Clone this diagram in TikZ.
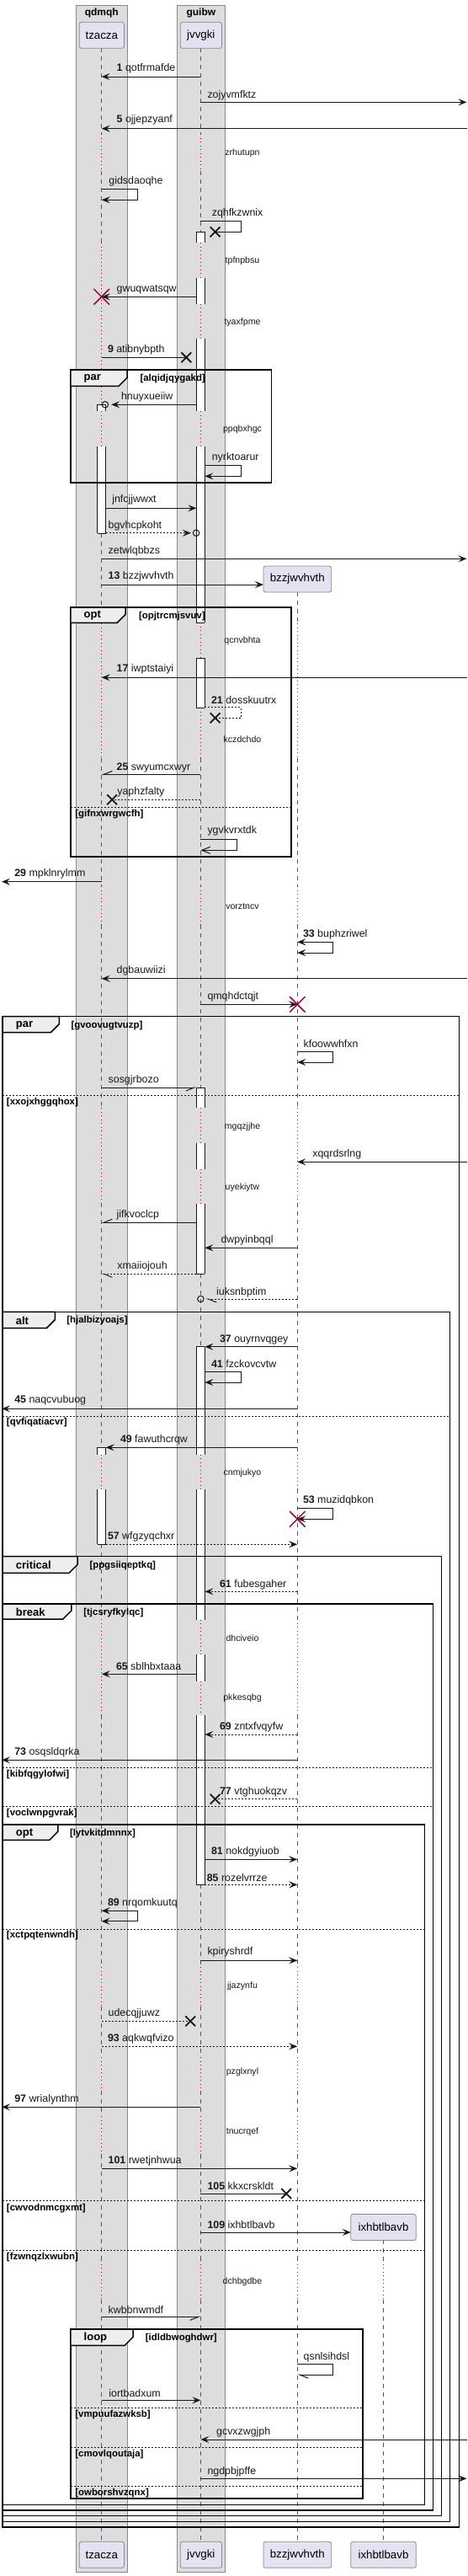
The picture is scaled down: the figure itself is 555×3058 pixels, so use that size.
\documentclass[tikz,border=0pt]{standalone}
\usepackage{fontspec}
\setmainfont{Liberation Sans}
\usetikzlibrary{arrows.meta,shapes.misc}
\definecolor{ink}{HTML}{181818}
\definecolor{boxbg}{HTML}{DDDDDD}
\definecolor{boxline}{HTML}{888888}
\definecolor{partfill}{HTML}{E2E2F0}
\definecolor{delayred}{HTML}{A80036}
\definecolor{tabfill}{HTML}{EEEEEE}
\definecolor{lifegray}{HTML}{555555}
\tikzset{
  msg/.style={draw=ink, line width=1pt},
  rmsg/.style={msg, dash pattern=on 2pt off 2pt},
  life/.style={draw=lifegray, line width=0.8pt, dash pattern=on 5pt off 5pt},
  dlyline/.style={draw=delayred, line width=1pt, dash pattern=on 1pt off 3.5pt},
  harpR/.style={-{Straight Barb[harpoon,swap,length=10pt,width=8pt]}},
  harpL/.style={-{Straight Barb[harpoon,length=10pt,width=8pt]}},
  openarr/.style={-{Straight Barb[length=10pt,width=8pt]}},
  lbl/.style={anchor=west, inner sep=0pt, text=ink, font=\fontsize{12.4}{14}\selectfont},
  dly/.style={inner sep=0pt, text=ink, font=\fontsize{10.6}{12}\selectfont},
  cond/.style={anchor=west, inner sep=0pt, font=\bfseries\fontsize{11.4}{13}\selectfont},
  tabtxt/.style={anchor=west, inner sep=0pt, font=\bfseries\fontsize{13}{15}\selectfont},
  boxtitle/.style={inner sep=0pt, font=\bfseries\fontsize{12}{14}\selectfont},
  part/.style={draw=boxline, fill=partfill, line width=0.8pt, rounded corners=2.5pt,
    minimum height=31pt, inner sep=0pt, font=\fontsize{13.3}{15}\selectfont},
  frame/.style={draw=black, line width=1.5pt},
  tab/.style={draw=black, line width=1.5pt, fill=tabfill},
  elsel/.style={draw=ink, line width=0.8pt, dash pattern=on 2pt off 2pt},
  lostx/.style={cross out, draw=ink, line width=1.8pt, minimum size=10pt, inner sep=0pt},
  killx/.style={cross out, draw=delayred, line width=1.5pt, minimum size=17pt, inner sep=0pt},
  circ/.style={circle, draw=ink, line width=1pt, minimum size=7.5pt, inner sep=0pt}
}
\newcommand{\actbar}[3]{%
  \fill[white] ({#1-5},#2) rectangle ({#1+5},#3);
  \draw[ink,line width=1pt] ({#1-5},#2) -- ({#1-5},#3) ({#1+5},#2) -- ({#1+5},#3);}
\newcommand{\actcap}[2]{\draw[ink,line width=1pt] ({#1-5},#2) -- ({#1+5},#2);}

\begin{document}
\begin{tikzpicture}[x=1pt,y=-1pt,>={Stealth[length=10pt,width=8pt,inset=4pt]}]
\useasboundingbox (0,0) rectangle (555,3058);

% boxes
\draw[boxline, fill=boxbg, line width=0.8pt] (89.9,6) rectangle (151.7,3053);
\draw[boxline, fill=boxbg, line width=0.8pt] (210.2,6) rectangle (267.7,3053);
\node[boxtitle] (qdmqh) at (120.8,15.5) {qdmqh};
\node[boxtitle] (guibw) at (238.9,15.5) {guibw};

% lifelines
\foreach \a/\b in {57.3/159, 203/288, 633.3/740, 900/1052, 1098/1315, 1428/1718.3, 1833.3/1922,
  2036/2335, 2382/2442, 2482/2512, 2558/2683, 2730/3017.3}
  \draw[life] (120.7,\a) -- (120.7,\b);
\foreach \a/\b in {159/203, 288/480.3, 488.3/530, 740/900, 1052/1098, 1315/1428, 1726.7/1768.3,
  1922/2036, 2335/2382, 2442/2482, 2512/2558, 2683/2730}
  \draw[dlyline] (120.7,\a) -- (120.7,\b);
\foreach \a/\b in {57.3/159, 203/275.3, 900/1052, 1098/1291, 1512.3/1598.7, 2237.3/2335,
  2382/2442, 2482/2512, 2558/2683, 2730/3017.3}
  \draw[life] (238.4,\a) -- (238.4,\b);
\foreach \a/\b in {159/203, 288.3/330, 360.7/401.7, 488.3/530, 739.3/781, 840.3/900, 1052/1098,
  1315/1356.7, 1387.7/1429, 1726.7/1768.3, 1922.7/1964.3, 1995.7/2036, 2335/2382, 2442/2482,
  2512/2558, 2683/2730}
  \draw[dlyline] (238.4,\a) -- (238.4,\b);
\foreach \a/\b in {703.3/740, 900/1052, 1098/1315, 1428/1726.7, 1768.3/1922, 2036/2335,
  2382/2442, 2482/2512, 2558/2683, 2730/3017.3}
  \draw[life] (353.3,\a) -- (353.3,\b);
\foreach \a/\b in {740/900, 1052/1098, 1315/1428, 1726.7/1768.3, 1922/2036, 2335/2382,
  2442/2482, 2512/2558, 2683/2730}
  \draw[dlyline] (353.3,\a) -- (353.3,\b);
\draw[life] (455,2659.3) -- (455,2683) (455,2730) -- (455,3017.3);
\draw[dlyline] (455,2683) -- (455,2730);

% activations
\actbar{120.7}{480.3}{488.3} \actcap{120.7}{480.3}
\actbar{120.7}{530}{633.3} \actcap{120.7}{633.3}
\actbar{120.7}{1718.3}{1726.7} \actcap{120.7}{1718.3}
\actbar{120.7}{1768.3}{1833.3} \actcap{120.7}{1833.3}
\actbar{238.4}{275.3}{288.3} \actcap{238.4}{275.3}
\actbar{238.4}{330}{360.7}
\actbar{238.4}{401.7}{488.3}
\actbar{238.4}{530}{739.3} \actcap{238.4}{739.3}
\actbar{238.4}{781}{840.3} \actcap{238.4}{781} \actcap{238.4}{840.3}
\actbar{238.4}{1291}{1315} \actcap{238.4}{1291}
\actbar{238.4}{1356.7}{1387.7}
\actbar{238.4}{1429}{1512.3} \actcap{238.4}{1512.3}
\actbar{238.4}{1598.7}{1726.7} \actcap{238.4}{1598.7}
\actbar{238.4}{1768.3}{1922.7}
\actbar{238.4}{1964.3}{1995.7}
\actbar{238.4}{2036}{2237.3} \actcap{238.4}{2237.3}

% frames
\draw[frame] (83.8,439) rectangle (322.3,573);
\draw[tab] (83.8,439) -- (151,439) -- (151,448.3) -- (141,458.3) -- (83.8,458.3) -- cycle;
\node[tabtxt] (par1) at (99.5,449.5) {par};
\node[cond] (g1) at (166.3,450) {[alqidjqygakd]};

\draw[frame] (83.8,721) rectangle (346.2,1017);
\draw[tab] (83.8,721) -- (149.2,721) -- (149.2,729.3) -- (139.2,739.3) -- (83.8,739.3) -- cycle;
\node[tabtxt] (opt1) at (99.5,730.5) {opt};
\node[cond] (g2) at (164.9,731.3) {[opjtrcmjsvuv]};
\draw[elsel] (83.8,958.3) -- (346.2,958.3);
\node[cond] (e1) at (89.2,966.7) {[gifnxwrgwcfh]};

\draw[frame] (3,1206.7) rectangle (545.3,3000);
\draw[tab] (3,1206.7) -- (70.3,1206.7) -- (70.3,1215.7) -- (60.3,1225.7) -- (3,1225.7) -- cycle;
\node[tabtxt] (par2) at (18.7,1217) {par};
\node[cond] (g3) at (84.3,1217.7) {[gvoovugtvuzp]};
\draw[elsel] (3,1300) -- (545.3,1300);
\node[cond] (e2) at (7.8,1309) {[xxojxhggqhox]};

\draw[frame] (3,1557.3) rectangle (534.6,2993.3);
\draw[tab] (3,1557.3) -- (65.3,1557.3) -- (65.3,1566.7) -- (55.3,1576.7) -- (3,1576.7) -- cycle;
\node[tabtxt] (alt) at (18.7,1567.5) {alt};
\node[cond] (g4) at (79.2,1567.7) {[hjalbizyoajs]};
\draw[elsel] (3,1681) -- (534.6,1681);
\node[cond] (e3) at (7.8,1688.3) {[qvfiqatiacvr]};

\draw[frame] (3,1847.7) rectangle (524.6,2986.7);
\draw[tab] (3,1847.7) -- (92.1,1847.7) -- (92.1,1857.3) -- (82.1,1867.3) -- (3,1867.3) -- cycle;
\node[tabtxt] (crit) at (18.7,1858) {critical};
\node[cond] (g5) at (106.3,1858.3) {[ppgsiiqeptkq]};

\draw[frame] (3,1904) rectangle (514.7,2980);
\draw[tab] (3,1904) -- (84.9,1904) -- (84.9,1912) -- (74.9,1922) -- (3,1922) -- cycle;
\node[tabtxt] (brk) at (18.7,1914) {break};
\node[cond] (g6) at (99.2,1914.3) {[tjcsryfkylqc]};
\draw[elsel] (3,2098.3) -- (514.7,2098.3);
\node[cond] (e4) at (7.8,2106.7) {[kibfqgylofwi]};
\draw[elsel] (3,2144.3) -- (514.7,2144.3);
\node[cond] (e5) at (7.8,2152.7) {[voclwnpgvrak]};

\draw[frame] (3,2166) rectangle (504.3,2973.3);
\draw[tab] (3,2166) -- (68.8,2166) -- (68.8,2174.3) -- (58.8,2184.3) -- (3,2184.3) -- cycle;
\node[tabtxt] (opt2) at (18.7,2176.5) {opt};
\node[cond] (g7) at (82.8,2176.7) {[lytvkitdmnnx]};
\draw[elsel] (3,2290) -- (504.3,2290);
\node[cond] (e6) at (7.8,2297.5) {[xctpqtenwndh]};
\draw[elsel] (3,2612.7) -- (504.3,2612.7);
\node[cond] (e7) at (7.8,2622) {[cwvodnmcgxmt]};
\draw[elsel] (3,2671.3) -- (504.3,2671.3);
\node[cond] (e8) at (7.8,2680) {[fzwnqzlxwubn]};

\draw[frame] (83.8,2765) rectangle (431.2,2966);
\draw[tab] (83.8,2765) -- (158.1,2765) -- (158.1,2774.3) -- (148.1,2784.3) -- (83.8,2784.3) -- cycle;
\node[tabtxt] (loop) at (99.5,2775) {loop};
\node[cond] (g8) at (172.7,2775.3) {[idldbwoghdwr]};
\draw[elsel] (83.8,2858.3) -- (431.2,2858.3);
\node[cond] (e9) at (89.2,2866.7) {[vmpuufazwksb]};
\draw[elsel] (83.8,2905.3) -- (431.2,2905.3);
\node[cond] (e10) at (89.2,2913.3) {[cmovlqoutaja]};
\draw[elsel] (83.8,2951.7) -- (431.2,2951.7);
\node[cond] (e11) at (89.2,2960) {[owborshvzqnx]};

% messages
\draw[msg,->] (238.4,91) -- (120.7,91);
\node[lbl] (l1) at (138.5,81.7) {\textbf{1} qotfrmafde};
\draw[msg,->] (238.4,121.3) -- (554.5,121.3);
\node[lbl] (l2) at (246.3,113.3) {zojyvmfktz};
\draw[msg,->] (555,152.7) -- (120.7,152.7);
\node[lbl] (l3) at (138.5,142.7) {\textbf{5} ojjepzyanf};
\node[dly] (d1) at (288,181.7) {zrhutupn};
\draw[msg,->] (120.7,224.3) -- (163.8,224.3) -- (163.8,237.3) -- (120.7,237.3);
\node[lbl] (l4) at (129.2,215) {gidsdaoqhe};
\node[lostx] (x1) at (255.6,275.3) {};
\draw[msg] (238.4,262.3) -- (286.6,262.3) -- (286.6,275.3) -- (x1.center);
\node[lbl] (l5) at (251.6,253.3) {zqhfkzwnix};
\node[dly] (d2) at (288,310) {tpfnpbsu};
\draw[msg,->] (233.4,352.3) -- (120.7,352.3);
\node[killx] (k1) at (120.7,352.3) {};
\node[lbl] (l6) at (138.5,344) {gwuqwatsqw};
\node[dly] (d3) at (288,382.3) {tyaxfpme};
\node[lostx] (x2) at (221.3,424.3) {};
\draw[msg] (120.7,424.3) -- (x2.center);
\node[lbl] (l7) at (127.8,415.7) {\textbf{9} atibnybpth};
\node[circ] (c1) at (124.9,480.3) {};
\draw[msg,->] (233.4,480.3) -- ([xshift=3pt]c1.east);
\node[lbl] (l8) at (143.8,471.7) {hnuyxueiiw};
\node[dly] (d4) at (288,510) {ppqbxhgc};
\draw[msg,->] (243.4,552.7) -- (286.6,552.7) -- (286.6,565.3) -- (243.4,565.3);
\node[lbl] (l9) at (251.6,543.3) {nyrktoarur};
\draw[msg,->] (125.7,603.3) -- (233.4,603.3);
\node[lbl] (l10) at (133.1,593.3) {jnfcjjwwxt};
\node[circ] (c2) at (233.1,632.7) {};
\draw[rmsg,->] (125.7,632.7) -- ([xshift=-2pt]c2.west);
\node[lbl] (l11) at (128.5,624.3) {bgvhcpkoht};
\draw[msg,->] (120.7,663.3) -- (554.5,663.3);
\node[lbl] (l12) at (128.5,654.3) {zetwlqbbzs};
\draw[msg,->] (120.7,694) -- (313,694);
\node[lbl] (l13) at (128.5,684.3) {\textbf{13} bzzjwvhvth};
\node[dly] (d5) at (288,760.7) {qcnvbhta};
\draw[msg,->] (555,804.3) -- (120.7,804.3);
\node[lbl] (l14) at (138.5,794.3) {\textbf{17} iwptstaiyi};
\node[lostx] (x3) at (255.6,852.3) {};
\draw[rmsg] (243.4,839.7) -- (286.6,839.7) -- (286.6,852.3) -- (x3.center);
\node[lbl] (l15) at (250.9,830.7) {\textbf{21} dosskuutrx};
\node[dly] (d6) at (288,877.3) {kczdchdo};
\draw[msg,harpR] (238.4,919.3) -- (120.7,919.3);
\node[lbl] (l16) at (138.5,911) {\textbf{25} swyumcxwyr};
\node[lostx] (x4) at (133.1,949.3) {};
\draw[rmsg] (238.4,949.3) -- (x4.center);
\node[lbl] (l17) at (139.2,940.7) {yaphzfalty};
\draw[msg,openarr] (238.4,996) -- (281.9,996) -- (281.9,1009.3) -- (238.4,1009.3);
\node[lbl] (l18) at (246.3,986.7) {ygvkvrxtdk};
\draw[msg,->] (120.7,1046.7) -- (2,1046.7);
\node[lbl] (l19) at (17.1,1037.3) {\textbf{29} mpklnrylmm};
\node[dly] (d7) at (288,1076) {vorztncv};
\draw[msg,<->] (353.3,1118.3) -- (395.4,1118.3) -- (395.4,1131) -- (353.3,1131);
\node[lbl] (l20) at (359.8,1109.3) {\textbf{33} buphzriwel};
\draw[msg,->] (555,1161.7) -- (120.7,1161.7);
\node[lbl] (l21) at (138.5,1152.7) {dgbauwiizi};
\draw[msg,->] (238.4,1192.3) -- (353.3,1192.3);
\node[killx] (k2) at (353.3,1192.3) {};
\node[lbl] (l22) at (246.3,1183.3) {qmqhdctqjt};
\draw[msg,->] (353.3,1248.3) -- (395.4,1248.3) -- (395.4,1261) -- (353.3,1261);
\node[lbl] (l23) at (360.5,1239.3) {kfoowwhfxn};
\draw[msg,harpR] (120.7,1291) -- (233.4,1291);
\node[lbl] (l24) at (128.5,1282.3) {sosgjrbozo};
\node[dly] (d8) at (288,1337.7) {mgqzjjhe};
\draw[msg,->] (555,1379.3) -- (353.3,1379.3);
\node[lbl] (l25) at (371.2,1370.7) {xqqrdsrlng};
\node[dly] (d9) at (288,1410) {uyekiytw};
\draw[msg,harpR] (233.4,1451.3) -- (120.7,1451.3);
\node[lbl] (l26) at (138.5,1442.7) {jifkvoclcp};
\draw[msg,->] (353.3,1481.3) -- (243.4,1481.3);
\node[lbl] (l27) at (262.3,1472.7) {dwpyinbqql};
\draw[rmsg,harpL] (233.4,1512.3) -- (120.7,1512.3);
\node[lbl] (l28) at (139.2,1503.3) {xmaiiojouh};
\node[circ] (c3) at (238.4,1542) {};
\draw[rmsg,harpL] (353.3,1542) -- ([xshift=2pt]c3.east);
\node[lbl] (l29) at (257,1534) {iuksnbptim};
\draw[msg,->] (353.3,1598.7) -- (243.4,1598.7);
\node[lbl] (l30) at (260.9,1590) {\textbf{37} ouyrnvqgey};
\draw[msg,->] (243.4,1628.3) -- (286.6,1628.3) -- (286.6,1641) -- (243.4,1641);
\node[lbl] (l31) at (250.9,1619.3) {\textbf{41} fzckovcvtw};
\draw[msg,->] (353.3,1672.3) -- (2,1672.3);
\node[lbl] (l32) at (17.1,1662.7) {\textbf{45} naqcvubuog};
\draw[msg,->] (353.3,1718.3) -- (125.7,1718.3);
\node[lbl] (l33) at (142.8,1709) {\textbf{49} fawuthcrqw};
\node[dly] (d10) at (288,1748.3) {cnmjukyo};
\draw[msg,->] (353.3,1790) -- (395.4,1790) -- (395.4,1803.3) -- (353.3,1803.3);
\node[killx] (k3) at (353.3,1803.3) {};
\node[lbl] (l34) at (359.8,1781.7) {\textbf{53} muzidqbkon};
\draw[rmsg,->] (125.7,1833.3) -- (353.3,1833.3);
\node[lbl] (l35) at (127.8,1824.3) {\textbf{57} wfgzyqchxr};
\draw[rmsg,->] (353.3,1889.3) -- (243.4,1889.3);
\node[lbl] (l36) at (260.9,1881) {\textbf{61} fubesgaher};
\node[dly] (d11) at (288,1944.3) {dhciveio};
\draw[msg,->] (233.4,1987.3) -- (120.7,1987.3);
\node[lbl] (l37) at (137.8,1977.7) {\textbf{65} sblhbxtaaa};
\node[dly] (d12) at (288,2016) {pkkesqbg};
\draw[rmsg,->] (353.3,2059) -- (243.4,2059);
\node[lbl] (l38) at (260.9,2050) {\textbf{69} zntxfvqyfw};
\draw[msg,->] (353.3,2089.3) -- (2,2089.3);
\node[lbl] (l39) at (17.1,2080.7) {\textbf{73} osqsldqrka};
\node[lostx] (x5) at (255.6,2135.7) {};
\draw[rmsg] (353.3,2135.7) -- (x5.center);
\node[lbl] (l40) at (260.9,2127.3) {\textbf{77} vtghuokqzv};
\draw[msg,->] (243.4,2207.3) -- (353.3,2207.3);
\node[lbl] (l41) at (250.9,2198.3) {\textbf{81} nokdgyiuob};
\draw[rmsg,->] (243.4,2237.3) -- (353.3,2237.3);
\node[lbl] (l42) at (245.6,2228.7) {\textbf{85} rozelvrrze};
\draw[msg,<->] (120.7,2268.3) -- (163.8,2268.3) -- (163.8,2280.7) -- (120.7,2280.7);
\node[lbl] (l43) at (127.8,2259) {\textbf{89} nrqomkuutq};
\draw[msg,->] (238.4,2327.3) -- (353.3,2327.3);
\node[lbl] (l44) at (246.3,2317.7) {kpiryshrdf};
\node[dly] (d13) at (288,2357.3) {jjazynfu};
\node[lostx] (x6) at (226.2,2399.3) {};
\draw[rmsg] (120.7,2399.3) -- (x6.center);
\node[lbl] (l45) at (128.5,2390.7) {udecqjjuwz};
\draw[rmsg,->] (120.7,2429.3) -- (353.3,2429.3);
\node[lbl] (l46) at (127.8,2420.7) {\textbf{93} aqkwqfvizo};
\node[dly] (d14) at (288,2459.3) {pzglxnyl};
\draw[msg,->] (238.4,2501.3) -- (2,2501.3);
\node[lbl] (l47) at (17.1,2492.7) {\textbf{97} wrialynthm};
\node[dly] (d15) at (288,2531) {tnucrqef};
\draw[msg,->] (120.7,2574.3) -- (353.3,2574.3);
\node[lbl] (l48) at (128.5,2565) {\textbf{101} rwetjnhwua};
\node[lostx] (x7) at (340.2,2604) {};
\draw[msg] (238.4,2604) -- (x7.center);
\node[lbl] (l49) at (246.3,2595) {\textbf{105} kkxcrskldt};
\draw[msg,->] (238.4,2650) -- (416.8,2650);
\node[lbl] (l50) at (246.3,2641) {\textbf{109} ixhbtlbavb};
\node[dly] (d16) at (288,2708.3) {dchbgdbe};
\draw[msg,harpR] (120.7,2750.3) -- (238.4,2750.3);
\node[lbl] (l51) at (128.5,2742.3) {kwbbnwmdf};
\draw[msg,harpL] (353.3,2806.7) -- (395.4,2806.7) -- (395.4,2819) -- (353.3,2819);
\node[lbl] (l52) at (360.5,2798.3) {qsnlsihdsl};
\draw[msg,->] (120.7,2849.3) -- (238.4,2849.3);
\node[lbl] (l53) at (129.2,2840.7) {iortbadxum};
\draw[msg,->] (555,2896) -- (238.4,2896);
\node[lbl] (l54) at (257,2887.3) {gcvxzwgjph};
\draw[msg,->] (238.4,2942.3) -- (554.5,2942.3);
\node[lbl] (l55) at (246.3,2934) {ngdpbjpffe};

% participants
\node[part, minimum width=53.2pt] (tzTop) at (120.8,41.8) {tzacza};
\node[part, minimum width=49.3pt] (jvTop) at (238.8,41.8) {jvvgki};
\node[part, minimum width=80.7pt] (bzTop) at (353.3,687.5) {bzzjwvhvth};
\node[part, minimum width=77.5pt] (ixTop) at (455.5,2644) {ixhbtlbavb};
\node[part, minimum width=53.2pt] (tzBot) at (120.8,3032.8) {tzacza};
\node[part, minimum width=49.3pt] (jvBot) at (238.8,3032.8) {jvvgki};
\node[part, minimum width=80.7pt] (bzBot) at (353.3,3032.8) {bzzjwvhvth};
\node[part, minimum width=77.5pt] (ixBot) at (455.5,3032.8) {ixhbtlbavb};
\end{tikzpicture}
\end{document}
